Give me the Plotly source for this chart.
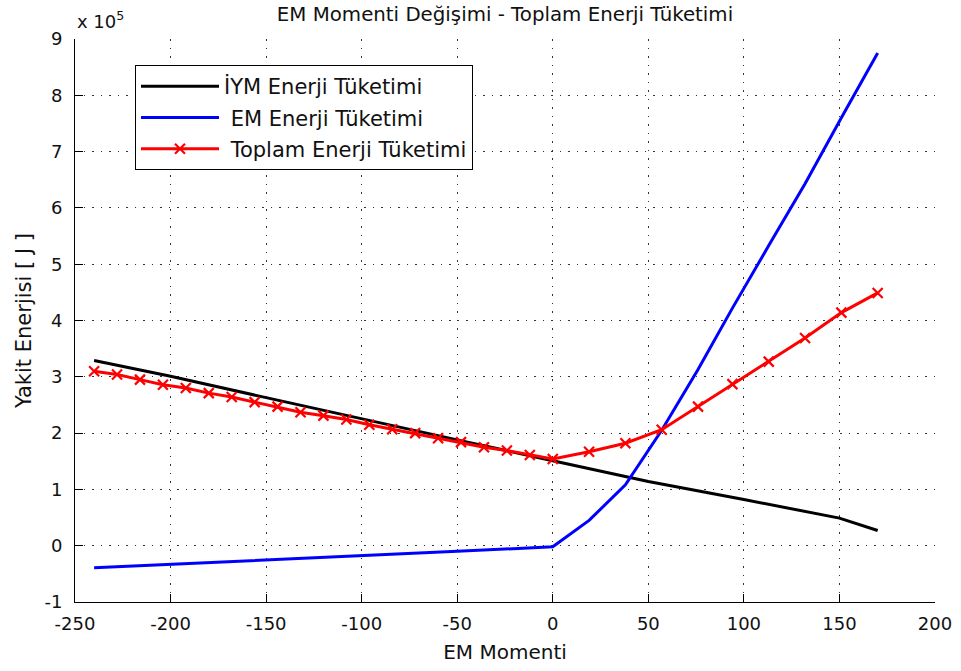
import plotly.graph_objects as go

# EM torque values (x) and energy consumption [J] for each series
iym_x = [-240, -200, -150, -100, -50, 0, 50, 100, 150, 170]
iym_j = [329000, 301000, 263000, 225000, 188000, 151000, 114000, 82000, 49000, 27000]

em_x = [-240, -200, -150, -100, -50, 0, 19, 38, 57, 76, 94, 113, 132, 151, 170]
em_j = [-39000, -33000, -26000, -18000, -10000, -2000, 45000, 108000, 205000,
        313000, 422000, 533000, 643000, 760000, 875000]

toplam_x = [-240, -228, -216, -204, -192, -180, -168, -156, -144, -132, -120,
            -108, -96, -84, -72, -60, -48, -36, -24, -12, 0,
            19, 38, 57, 76, 94, 113, 132, 151, 170]
toplam_j = [310000, 304000, 295000, 286000, 280000, 271000, 264000, 255000, 247000,
            237000, 231000, 224000, 215000, 207000, 200000, 191000, 184000, 175000,
            169000, 161000, 154000,
            167000, 182000, 206000, 247000, 287000, 327000, 369000, 414000, 449000]

x_ticks = [-250, -200, -150, -100, -50, 0, 50, 100, 150, 200]
x_labels = ["-250", "-200", "-150", "-100", "-50", "0", "50", "100", "150", "200"]
y_ticks = [-100000, 0, 100000, 200000, 300000, 400000, 500000, 600000, 700000, 800000, 900000]
y_labels = ["-1", "0", "1", "2", "3", "4", "5", "6", "7", "8", "9"]

FONT = "DejaVu Sans, Verdana, sans-serif"
TXT = "#111111"
NBSP = "\u00a0"

fig = go.Figure()
fig.add_trace(go.Scatter(
    x=iym_x, y=iym_j, mode="lines", name="İYM Enerji Tüketimi", legendgroup="a",
    line=dict(color="#000000", width=3),
))
fig.add_trace(go.Scatter(
    x=em_x, y=em_j, mode="lines", name=NBSP + "EM Enerji Tüketimi", legendgroup="b",
    line=dict(color="#0000ff", width=3),
))
fig.add_trace(go.Scatter(
    x=toplam_x, y=toplam_j, mode="lines+markers", name=NBSP + "Toplam Enerji Tüketimi",
    legendgroup="c",
    line=dict(color="#ff0000", width=3),
    marker=dict(symbol="x-thin", size=10, color="#ff0000",
                line=dict(color="#ff0000", width=2.2)),
))

grid_dash = "1.5px,7px"
fig.update_layout(
    width=961, height=671,
    margin=dict(l=75, r=26, t=39, b=69, autoexpand=False),
    paper_bgcolor="white", plot_bgcolor="white",
    font=dict(family=FONT, size=18, color=TXT),
    title=dict(text="EM Momenti Değişimi - Toplam Enerji Tüketimi",
               x=0.5, xref="paper", xanchor="center",
               y=1 - 14 / 671, yref="container", yanchor="middle",
               font=dict(size=19.8, color=TXT)),
    showlegend=True,
    legend=dict(x=(135 - 75) / 860, y=(602 - 65) / 563, xanchor="left", yanchor="top",
                bgcolor="white", bordercolor="#000000", borderwidth=1,
                traceorder="grouped", tracegroupgap=1, itemwidth=78,
                font=dict(size=21, color=TXT)),
    xaxis=dict(
        range=[-250, 200], tickvals=x_ticks, ticktext=x_labels,
        showline=True, linecolor="#000000", linewidth=1,
        ticks="inside", ticklen=8, tickcolor="#000000",
        showgrid=True, gridcolor="#333333", gridwidth=1, griddash=grid_dash,
        zeroline=False, ticklabelstandoff=5, tickfont=dict(size=18),
        automargin=False,
        title=dict(text="EM Momenti", standoff=12, font=dict(size=20)),
    ),
    yaxis=dict(
        range=[-100000, 900000], tickvals=y_ticks, ticktext=y_labels,
        showline=True, linecolor="#000000", linewidth=1,
        ticks="inside", ticklen=8, tickcolor="#000000",
        showgrid=True, gridcolor="#333333", gridwidth=1, griddash=grid_dash,
        zeroline=False, ticklabelstandoff=8, tickfont=dict(size=18),
        automargin=False,
        title=dict(text="Yakit Enerjisi [ J ]", standoff=7, font=dict(size=21)),
    ),
)

# axis scale factor shown above the y axis
fig.add_annotation(
    xref="paper", yref="paper", x=0, y=(602 - 20) / 563,
    xanchor="left", yanchor="middle", showarrow=False,
    text="x 10<sup>5</sup>", font=dict(size=18, color=TXT),
)

fig.write_html("out.html")
